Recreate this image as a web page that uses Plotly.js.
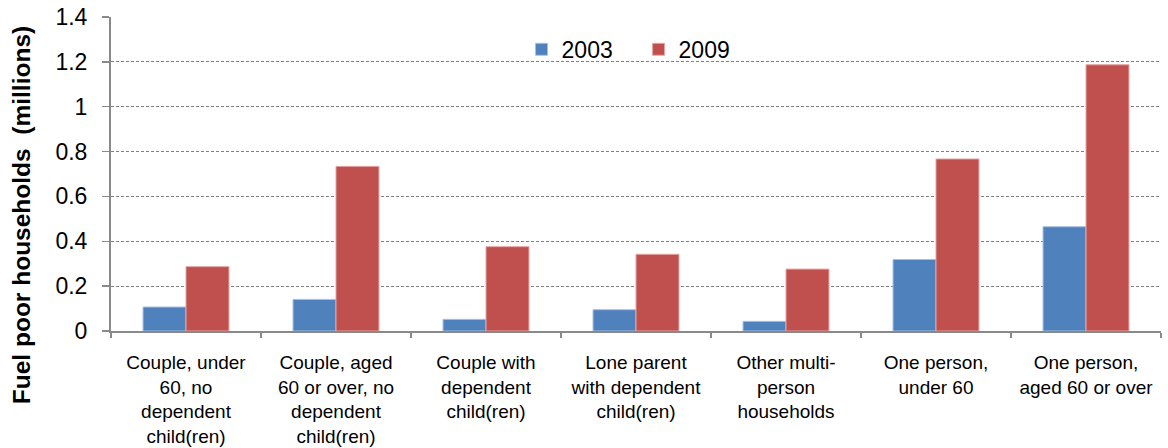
<!DOCTYPE html>
<html>
<head>
<meta charset="utf-8">
<script src="https://cdn.plot.ly/plotly-3.0.1.min.js"></script>
<style>html,body{margin:0;padding:0;background:#fff;}#chart{width:1168px;height:448px;}</style>
</head>
<body>
<div id="chart"></div>
<script>
const categories = [
  "Couple, under<br>60, no<br>dependent<br>child(ren)",
  "Couple, aged<br>60 or over, no<br>dependent<br>child(ren)",
  "Couple with<br>dependent<br>child(ren)",
  "Lone parent<br>with dependent<br>child(ren)",
  "Other multi-<br>person<br>households",
  "One person,<br>under 60",
  "One person,<br>aged 60 or over"
];
const values2003 = [0.107, 0.141, 0.052, 0.095, 0.043, 0.319, 0.465];
const values2009 = [0.287, 0.734, 0.376, 0.342, 0.276, 0.767, 1.187];
const seriesNames = ["2003", "2009"];
const yTitle = "Fuel poor households  (millions)";

const FONT = "Liberation Sans, Arial, sans-serif";
const AXIS_GRAY = "#898989";

const traces = [
  {type: "bar", name: seriesNames[0], x: categories, y: values2003,
   marker: {color: "#4F81BD", line: {color: "#a9c1e0", width: 1}}},
  {type: "bar", name: seriesNames[1], x: categories, y: values2009,
   marker: {color: "#C0504D", line: {color: "#e4a6a4", width: 1}}}
];

const layout = {
  width: 1168, height: 448,
  margin: {l: 111, r: 7, t: 17, b: 117, pad: 0},
  paper_bgcolor: "#fff", plot_bgcolor: "#fff",
  font: {family: FONT, color: "#000"},
  barmode: "group", bargap: 0.427, bargroupgap: 0,
  showlegend: true,
  legend: {orientation: "h", x: 0.391, y: 0.897, xanchor: "left", yanchor: "middle",
           font: {family: FONT, size: 23, color: "#000"}, bgcolor: "rgba(0,0,0,0)",
           itemwidth: 30, entrywidth: 72, traceorder: "normal"},
  xaxis: {
    type: "category", showgrid: false, zeroline: false,
    showline: true, linecolor: AXIS_GRAY, linewidth: 2,
    ticks: "outside", tickson: "boundaries", ticklen: 5, tickcolor: AXIS_GRAY, tickwidth: 1.5,
    tickfont: {family: FONT, size: 19, color: "#000"}, tickangle: 0,
    ticklabelstandoff: 13
  },
  yaxis: {
    range: [0, 1.4], dtick: 0.2, tick0: 0,
    showgrid: true, gridcolor: "#808080", gridwidth: 1, griddash: "3px,2px",
    zeroline: false, showline: true, linecolor: AXIS_GRAY, linewidth: 2,
    ticks: "outside", ticklen: 7, tickcolor: AXIS_GRAY, tickwidth: 1.5,
    tickfont: {family: FONT, size: 23, color: "#000"},
    ticklabelstandoff: 10
  },
  annotations: [{
    text: "<b>" + yTitle + "</b>", textangle: -90,
    xref: "paper", yref: "paper", x: -0.085, y: 0.368,
    xanchor: "center", yanchor: "middle", showarrow: false,
    font: {family: FONT, size: 24.5, color: "#000"}
  }]
};

Plotly.newPlot("chart", traces, layout, {displayModeBar: false, staticPlot: true});
</script>
</body>
</html>
